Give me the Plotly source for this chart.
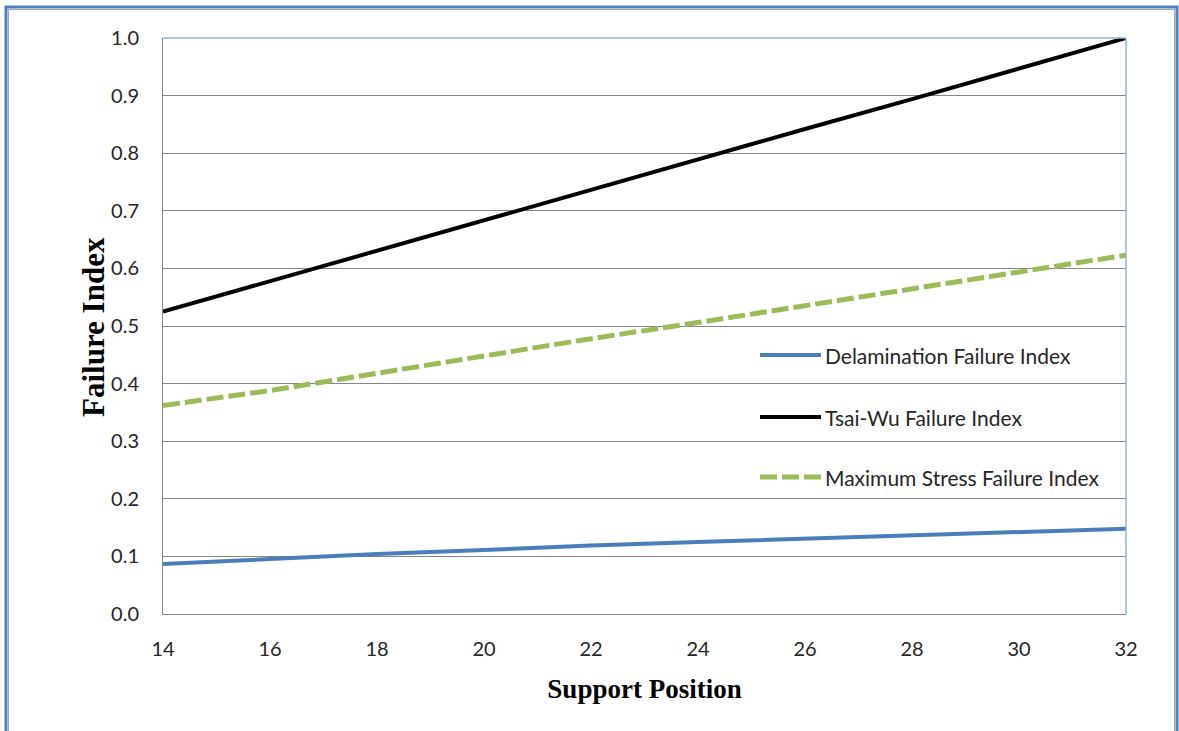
import plotly.graph_objects as go

# Support positions and failure indices for each criterion
support_position = [14, 16, 18, 20, 22, 24, 26, 28, 30, 32]
delamination_fi = [0.087, 0.096, 0.104, 0.111, 0.119, 0.125, 0.131, 0.137, 0.143, 0.148]
tsai_wu_fi = [0.525, 0.578, 0.631, 0.683, 0.736, 0.789, 0.842, 0.894, 0.947, 1.000]
max_stress_fi = [0.362, 0.388, 0.418, 0.449, 0.478, 0.506, 0.535, 0.565, 0.594, 0.623]

series_names = ["Delamination Failure Index", "Tsai-Wu Failure Index", "Maximum Stress Failure Index"]
series_colors = ["#4A7EBB", "#000000", "#9BBB59"]
series_dash = ["solid", "solid", "17px,5px"]
series_width = [4, 4, 5]
series_values = [delamination_fi, tsai_wu_fi, max_stress_fi]

W, H = 1179, 731
L, R, T, B = 163, 1126, 38, 614  # plot area in pixels


def px(x):
    return (x - L) / (R - L)


def py(y):
    return (B - y) / (B - T)


fig = go.Figure()
for name, vals, col, dash, w in zip(series_names, series_values, series_colors, series_dash, series_width):
    fig.add_trace(go.Scatter(
        x=support_position, y=vals, mode="lines", name=name,
        line=dict(color=col, width=w, dash=dash), showlegend=False,
    ))

shapes = []
annotations = []

# Outer chart frame
shapes.append(dict(type="rect", xref="paper", yref="paper",
                   x0=px(6), x1=px(1177), y0=py(760), y1=py(7),
                   line=dict(color="#4F81BD", width=3), layer="below"))
shapes.append(dict(type="rect", xref="paper", yref="paper",
                   x0=px(8.5), x1=px(1174.5), y0=py(760), y1=py(9.5),
                   line=dict(color="#A6A6A6", width=1), layer="below"))

# Top and right edges of the plot area
shapes.append(dict(type="line", xref="paper", yref="paper", x0=0, x1=1, y0=1, y1=1,
                   line=dict(color="#8EB4E3", width=1.5), layer="above"))
shapes.append(dict(type="line", xref="paper", yref="paper", x0=1, x1=1, y0=0, y1=1,
                   line=dict(color="#8EB4E3", width=1.5), layer="above"))

# Legend
legend_y = [355, 417, 477]
for name, col, dash, w, ly in zip(series_names, series_colors, series_dash, series_width, legend_y):
    shapes.append(dict(type="line", xref="paper", yref="paper",
                       x0=px(760), x1=px(821), y0=py(ly), y1=py(ly),
                       line=dict(color=col, width=w, dash=dash), layer="above"))
    annotations.append(dict(xref="paper", yref="paper", x=px(823), y=py(ly),
                            xanchor="left", yanchor="middle", showarrow=False,
                            text=name, font=dict(family="Lato", size=21, color="#262626")))

# Y axis title placed as a rotated annotation
annotations.append(dict(xref="paper", yref="paper", x=px(93), y=py(327),
                        xanchor="center", yanchor="middle", showarrow=False, textangle=-90,
                        text="<b>Failure Index</b>",
                        font=dict(family="Liberation Serif", size=31, color="black")))

fig.update_layout(
    width=W, height=H,
    margin=dict(l=L, r=W - R, t=T, b=H - B),
    paper_bgcolor="white", plot_bgcolor="white",
    shapes=shapes, annotations=annotations,
    xaxis=dict(
        range=[14, 32], tickmode="array", tickvals=list(range(14, 33, 2)),
        showgrid=False, zeroline=False, showline=True, linecolor="#868686", linewidth=1,
        ticks="", ticklabelstandoff=17,
        tickfont=dict(family="Lato", size=20, color="#262626"),
        title=dict(text="<b>Support Position</b>", standoff=20,
                   font=dict(family="Liberation Serif", size=27, color="black")),
    ),
    yaxis=dict(
        range=[0, 1.0], tickmode="array", tickvals=[i / 10 for i in range(11)],
        ticktext=[f"{i / 10:.1f}" for i in range(11)],
        showgrid=True, gridcolor="#868686", gridwidth=1,
        zeroline=False, showline=True, linecolor="#868686", linewidth=1,
        ticks="", ticklabelstandoff=19,
        tickfont=dict(family="Lato", size=20, color="#262626"),
    ),
)

fig.write_html("out.html")
